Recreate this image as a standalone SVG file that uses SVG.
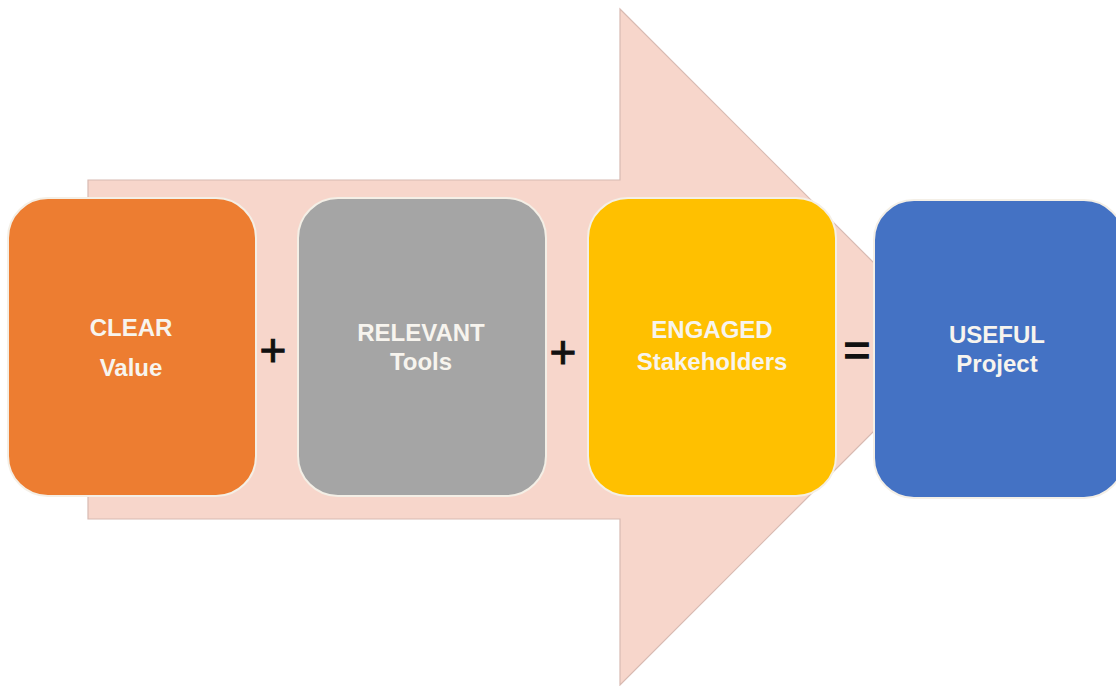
<svg xmlns="http://www.w3.org/2000/svg" width="1116" height="686" viewBox="0 0 1116 686">
  <style>
    .box { stroke: #f4efe6; stroke-width: 2; }
    .label { font-family: "Liberation Sans", Arial, sans-serif; font-weight: bold; font-size: 24px; fill: #f7f4ee; text-anchor: middle; }
    .op { font-family: "Liberation Sans", Arial, sans-serif; font-size: 46px; fill: #111111; text-anchor: middle; }
  </style>

  <rect width="1116" height="686" fill="#ffffff"/>

  <!-- background block arrow -->
  <g id="flow-arrow">
    <polygon points="88,180 620,180 620,9 958,347 620,685 620,519 88,519"
             fill="#f7d6cb" stroke="#d8bab2" stroke-width="1.2"/>
  </g>

  <!-- operators between the boxes -->
  <g id="connectors">
    <text class="op" x="273" y="366" stroke="#111111" stroke-width="1">+</text>
    <text class="op" x="563" y="368" stroke="#111111" stroke-width="1">+</text>
    <text class="op" x="857" y="366" stroke="#111111" stroke-width="1.5">=</text>
  </g>

  <g id="node-clear">
    <rect class="box" x="8" y="198" width="248" height="298" rx="40" fill="#ed7d31"/>
    <text class="label" x="131" y="336">CLEAR</text>
    <text class="label" x="131" y="376">Value</text>
  </g>

  <g id="node-relevant">
    <rect class="box" x="298" y="198" width="248" height="298" rx="40" fill="#a5a5a5"/>
    <text class="label" x="421" y="341">RELEVANT</text>
    <text class="label" x="421" y="370" font-weight="normal">Tools</text>
  </g>

  <g id="node-engaged">
    <rect class="box" x="588" y="198" width="248" height="298" rx="40" fill="#ffc000"/>
    <text class="label" x="712" y="338">ENGAGED</text>
    <text class="label" x="712" y="370">Stakeholders</text>
  </g>

  <g id="node-useful">
    <rect class="box" x="874" y="200" width="250" height="298" rx="40" fill="#4472c4"/>
    <text class="label" x="997" y="343">USEFUL</text>
    <text class="label" x="997" y="372">Project</text>
  </g>
</svg>
